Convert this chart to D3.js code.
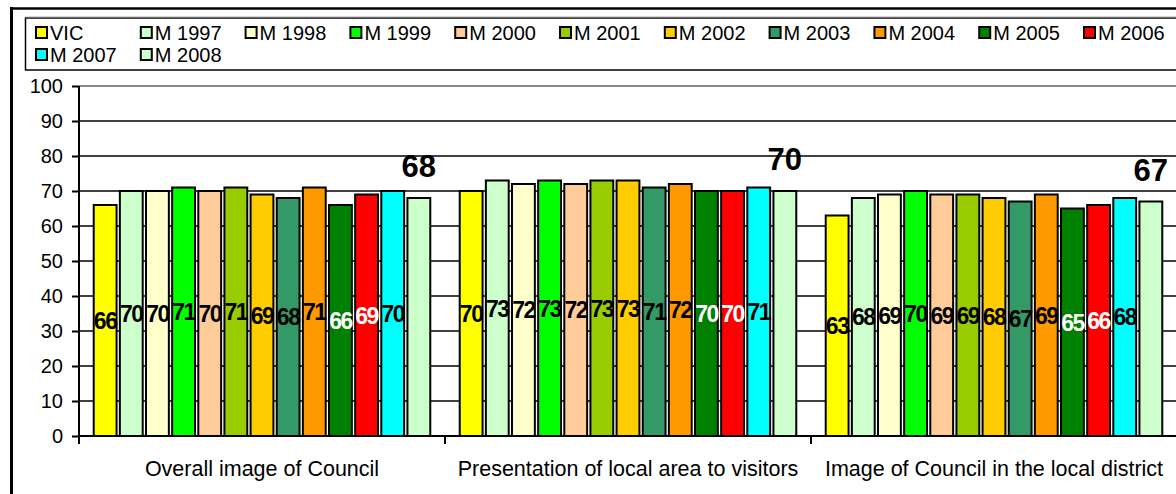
<!DOCTYPE html>
<html>
<head>
<meta charset="utf-8">
<script src="https://cdn.jsdelivr.net/npm/d3@7"></script>
<style>
  html, body { margin: 0; padding: 0; background: #fff; }
  svg { display: block; font-family: "Liberation Sans", Arial, sans-serif; }
</style>
</head>
<body>
<svg id="chart" width="1176" height="494"></svg>
<script>
// Survey categories and series
const categories = [
  "Overall image of Council",
  "Presentation of local area to visitors",
  "Image of Council in the local district"
];
const seriesNames = ["VIC", "M 1997", "M 1998", "M 1999", "M 2000", "M 2001",
  "M 2002", "M 2003", "M 2004", "M 2005", "M 2006", "M 2007", "M 2008"];
const seriesColors = ["#FFFF00", "#CCFFCC", "#FFFFCC", "#00FF00", "#FFCC99", "#99CC00",
  "#FFCC00", "#339966", "#FF9900", "#008000", "#FF0000", "#00FFFF", "#CCFFCC"];
// Scores per series, in category order
const overallImage   = [66, 70, 70, 71, 70, 71, 69, 68, 71, 66, 69, 70, 68];
const presentation   = [70, 73, 72, 73, 72, 73, 73, 71, 72, 70, 70, 71, 70];
const districtImage  = [63, 68, 69, 70, 69, 69, 68, 67, 69, 65, 66, 68, 67];
const yTicks = [0, 10, 20, 30, 40, 50, 60, 70, 80, 90, 100];

const values = [overallImage, presentation, districtImage];
const whiteLabelSeries = ["M 2005", "M 2006"];
const highlightSeries = "M 2008";

const svg = d3.select("#chart");
const W = 1176, H = 494;
const plot = { left: 79, top: 86, right: 1177, bottom: 436 };

const y = d3.scaleLinear().domain([0, 100]).range([plot.bottom, plot.top]);
const x0 = d3.scaleBand().domain(categories).range([plot.left, plot.right]).padding(0);
const x1 = d3.scaleBand().domain(seriesNames).range([0, x0.bandwidth()])
  .paddingInner(0).paddingOuter(0.5);
const color = d3.scaleOrdinal().domain(seriesNames).range(seriesColors);

// Outer chart border (top and left)
svg.append("line").attr("x1", 10).attr("x2", W).attr("y1", 8.5).attr("y2", 8.5)
  .attr("stroke", "#000").attr("stroke-width", 2.5);
svg.append("line").attr("x1", 11.5).attr("x2", 11.5).attr("y1", 7).attr("y2", H)
  .attr("stroke", "#000").attr("stroke-width", 3);

// Legend box
svg.append("rect").attr("x", 25.5).attr("y", 18).attr("width", W).attr("height", 52)
  .attr("fill", "#fff").attr("stroke", "#000").attr("stroke-width", 1.5);
svg.append("line").attr("x1", 25.5).attr("x2", W).attr("y1", 17.5).attr("y2", 17.5)
  .attr("stroke", "#666").attr("stroke-width", 1.5);

const legendStep = 104.8;
const legend = svg.append("g").selectAll("g").data(seriesNames).join("g")
  .attr("transform", (d, i) => {
    const row = i < 11 ? 0 : 1;
    const col = i < 11 ? i : i - 11;
    return `translate(${36 + col * legendStep},${row === 0 ? 32.5 : 54.5})`;
  });
legend.append("rect").attr("x", 0).attr("y", -5.5).attr("width", 11).attr("height", 11)
  .attr("fill", d => color(d)).attr("stroke", "#000").attr("stroke-width", 2);
legend.append("text").attr("x", 14).attr("y", 7.5)
  .attr("font-size", 20).attr("fill", "#000")
  .text(d => d);

// Horizontal gridlines
svg.append("g").selectAll("line").data(yTicks.filter(t => t > 0)).join("line")
  .attr("x1", plot.left).attr("x2", plot.right)
  .attr("y1", d => y(d)).attr("y2", d => y(d))
  .attr("stroke", d => d === 100 ? "#888" : "#000")
  .attr("stroke-width", d => d === 100 ? 2 : 1.6);

// Bars
const groups = svg.append("g").selectAll("g").data(categories).join("g")
  .attr("transform", d => `translate(${x0(d)},0)`);

const barGap = 1.3, stroke = 2;
groups.selectAll("rect")
  .data((c, ci) => seriesNames.map((s, si) => ({ series: s, value: values[ci][si] })))
  .join("rect")
  .attr("x", d => x1(d.series) + barGap / 2 + stroke / 2)
  .attr("width", x1.bandwidth() - barGap - stroke)
  .attr("y", d => y(d.value))
  .attr("height", d => y(0) - y(d.value))
  .attr("fill", d => color(d.series))
  .attr("stroke", "#000").attr("stroke-width", stroke);

// Value labels centred in the bars
groups.selectAll("text.val")
  .data((c, ci) => seriesNames.map((s, si) => ({ series: s, value: values[ci][si] }))
    .filter(d => d.series !== highlightSeries))
  .join("text").attr("class", "val")
  .attr("x", d => x1(d.series) + x1.bandwidth() / 2)
  .attr("y", d => (y(d.value) + y(0)) / 2)
  .attr("dy", "0.36em")
  .attr("text-anchor", "middle")
  .attr("font-size", 23).attr("font-weight", "bold").attr("letter-spacing", -1.5)
  .attr("fill", d => whiteLabelSeries.includes(d.series) ? "#fff" : "#000")
  .text(d => d.value);

// Latest result shown large above its bar
groups.selectAll("text.big")
  .data((c, ci) => seriesNames.map((s, si) => ({ series: s, value: values[ci][si] }))
    .filter(d => d.series === highlightSeries))
  .join("text").attr("class", "big")
  .attr("x", d => x1(d.series) + x1.bandwidth() / 2)
  .attr("y", d => y(d.value) - 21)
  .attr("text-anchor", "middle")
  .attr("font-size", 31).attr("font-weight", "bold")
  .attr("fill", "#000")
  .text(d => d.value);

// Y axis
const yAxis = svg.append("g").attr("transform", `translate(${plot.left},0)`)
  .call(d3.axisLeft(y).tickValues(yTicks).tickSize(7).tickPadding(9));
yAxis.select(".domain").attr("stroke", "#000").attr("stroke-width", 2)
  .attr("d", `M0,${plot.top}V${plot.bottom + 4}`);
yAxis.selectAll(".tick line").attr("stroke", "#000").attr("stroke-width", 2);
yAxis.selectAll(".tick text").attr("font-size", 20).attr("fill", "#000")
  .attr("font-family", "Liberation Sans, Arial, sans-serif");

// Category axis
const boundaries = categories.map(c => x0(c));
svg.append("line").attr("x1", plot.left).attr("x2", plot.right)
  .attr("y1", plot.bottom).attr("y2", plot.bottom)
  .attr("stroke", "#000").attr("stroke-width", 2);
svg.append("g").selectAll("line").data(boundaries).join("line")
  .attr("x1", d => d).attr("x2", d => d)
  .attr("y1", plot.bottom).attr("y2", plot.bottom + 8)
  .attr("stroke", "#000").attr("stroke-width", 2);
svg.append("g").selectAll("text").data(categories).join("text")
  .attr("x", d => x0(d) + x0.bandwidth() / 2)
  .attr("y", 476)
  .attr("text-anchor", "middle")
  .attr("font-size", 21.5).attr("fill", "#000")
  .text(d => d);
</script>
</body>
</html>
